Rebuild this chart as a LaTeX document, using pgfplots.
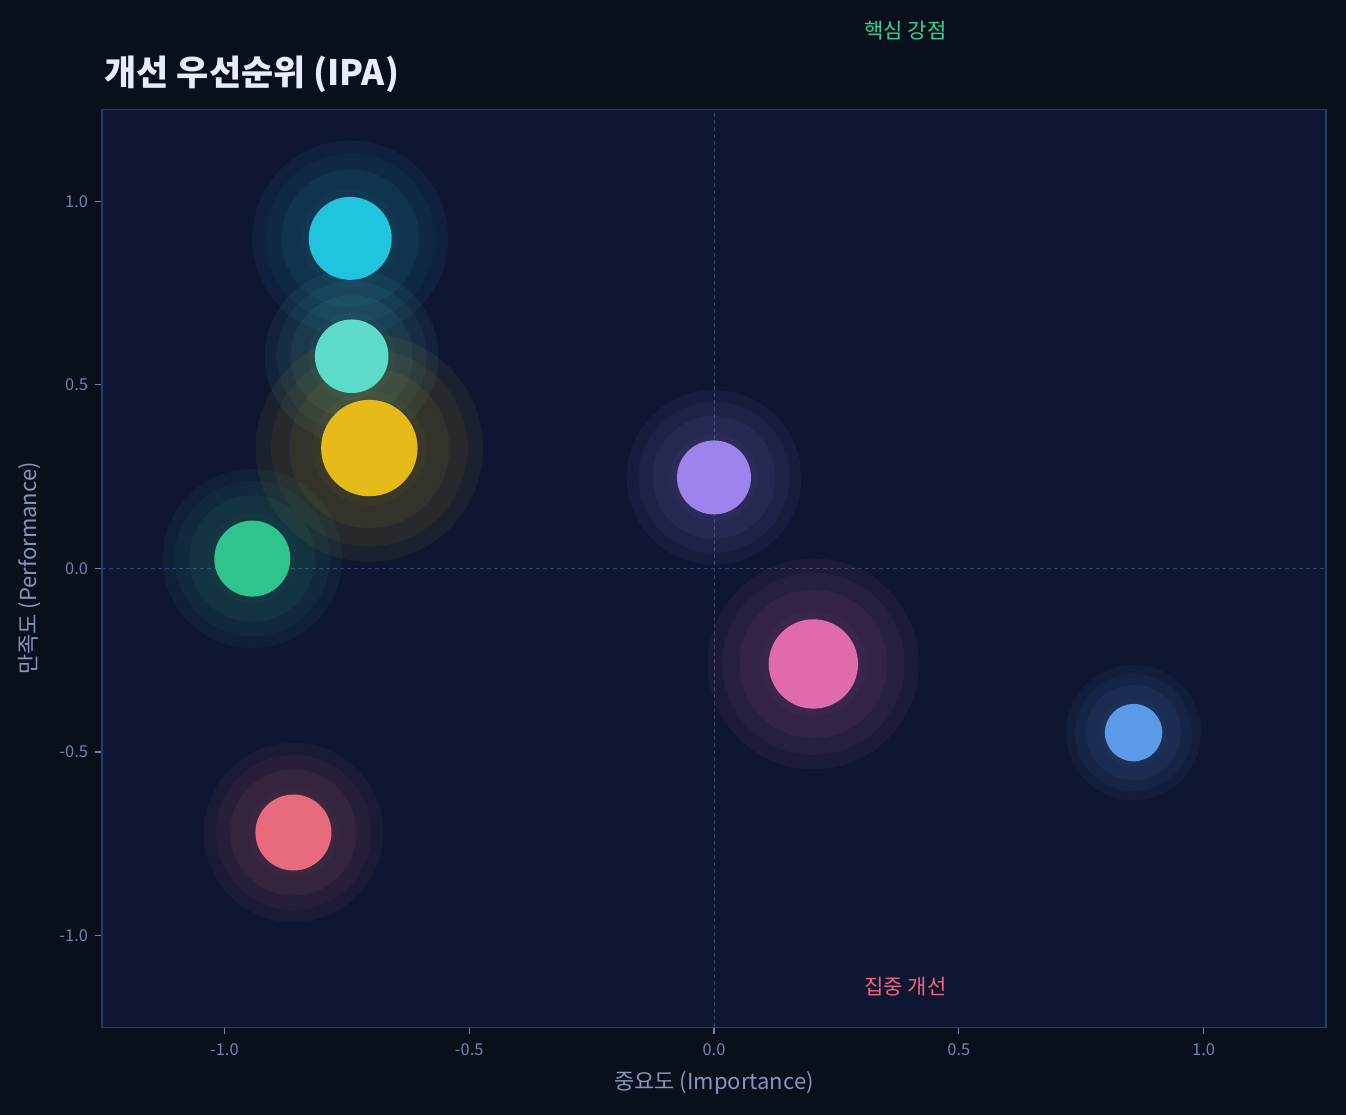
\documentclass[border=0pt]{standalone}
\usepackage{fontspec}
\setmainfont{Noto Sans CJK KR}
\usepackage{pgfplots}
\pgfplotsset{compat=1.18}
\definecolor{figbg}{HTML}{0A0F1C}
\definecolor{axbg}{HTML}{0E1631}
\definecolor{bordc}{HTML}{2A3A6A}
\definecolor{dashc}{HTML}{33426E}
\definecolor{tickc}{HTML}{7384AC}
\definecolor{labc}{HTML}{8794BC}
\definecolor{titc}{HTML}{E8ECF8}
\definecolor{cCyan}{HTML}{20C4DE}
\definecolor{cTeal}{HTML}{5CDBC8}
\definecolor{cYellow}{HTML}{E6BB19}
\definecolor{cGreen}{HTML}{30C48D}
\definecolor{cPurple}{HTML}{9D84EC}
\definecolor{cPink}{HTML}{E06BAA}
\definecolor{cBlue}{HTML}{5A9AE8}
\definecolor{cRed}{HTML}{E76B7D}
\definecolor{annG}{HTML}{34D399}
\definecolor{annR}{HTML}{F06480}
\newcommand{\ring}[5]{%
  \addplot[only marks, draw=none, fill=#4, mark=*, mark options={draw=none, draw opacity=0, fill=#4, fill opacity=#5}, mark size={#3}] coordinates {(#1,#2)};
}
\newcommand{\glow}[4]{%
  \ring{#1}{#2}{#3*0.5*2.36}{#4}{0.065}
  \ring{#1}{#2}{#3*0.5*2.04}{#4}{0.055}
  \ring{#1}{#2}{#3*0.5*1.66}{#4}{0.07}
  \ring{#1}{#2}{#3*0.5*1.18}{#4}{0.04}
}
\newcommand{\core}[4]{%
  \ring{#1}{#2}{#3*0.5}{#4}{1}
}
\begin{document}
\begin{tikzpicture}
\fill[figbg] (0,0) rectangle (673pt,557.5pt);
\node[anchor=base west, font=\fontsize{17.5}{20}\selectfont\bfseries, text=titc, inner sep=0pt] at (52pt,514.5pt) {개선 우선순위 (IPA)};
\begin{axis}[
  at={(51pt,43.75pt)}, anchor=south west,
  scale only axis, width=612pt, height=459pt,
  xmin=-1.25, xmax=1.25, ymin=-1.25, ymax=1.25,
  axis background/.style={fill=axbg},
  axis line style={draw=bordc, line width=0.7pt},
  xtick={-1,-0.5,0,0.5,1}, ytick={-1,-0.5,0,0.5,1},
  xticklabels={-1.0,-0.5,0.0,0.5,1.0},
  yticklabels={-1.0,-0.5,0.0,0.5,1.0},
  xtick pos=bottom, ytick pos=left, tick align=outside,
  major tick length=3.5pt,
  tick style={draw=tickc, line width=0.6pt},
  ticklabel style={font=\fontsize{8.2}{10}\selectfont, text=tickc},
  xticklabel style={yshift=-1pt},
  xlabel={중요도 (Importance)}, ylabel={만족도 (Performance)},
  label style={font=\fontsize{11}{13}\selectfont, text=labc},
  xlabel style={at={(axis description cs:0.5,-0.0605)}, anchor=center},
  ylabel style={at={(axis description cs:-0.0588,0.5)}, anchor=center},
  clip=false,
]
\addplot[dashc, line width=0.5pt, dash pattern=on 2pt off 1.5pt] coordinates {(0,-1.25) (0,1.25)};
\addplot[dashc, line width=0.5pt, dash pattern=on 2pt off 1.5pt] coordinates {(-1.25,0) (1.25,0)};
\glow{-0.743}{0.899}{41.5}{cCyan}
\glow{-0.740}{0.578}{36.8}{cTeal}
\glow{-0.704}{0.328}{48.2}{cYellow}
\glow{-0.943}{0.027}{38}{cGreen}
\glow{0.0}{0.248}{37}{cPurple}
\glow{0.203}{-0.260}{44.7}{cPink}
\glow{0.857}{-0.447}{28.7}{cBlue}
\glow{-0.859}{-0.719}{38}{cRed}
\core{-0.743}{0.899}{41.5}{cCyan}
\core{-0.740}{0.578}{36.8}{cTeal}
\core{-0.704}{0.328}{48.2}{cYellow}
\core{-0.943}{0.027}{38}{cGreen}
\core{0.0}{0.248}{37}{cPurple}
\core{0.203}{-0.260}{44.7}{cPink}
\core{0.857}{-0.447}{28.7}{cBlue}
\core{-0.859}{-0.719}{38}{cRed}
\node[font=\fontsize{10.5}{12}\selectfont, text=annG] at (axis cs:0.391,1.466) {핵심 강점};
\node[font=\fontsize{10.5}{12}\selectfont, text=annR] at (axis cs:0.391,-1.139) {집중 개선};
\end{axis}
\pgfresetboundingbox
\useasboundingbox (0,0) rectangle (673pt,557.5pt);
\end{tikzpicture}
\end{document}
